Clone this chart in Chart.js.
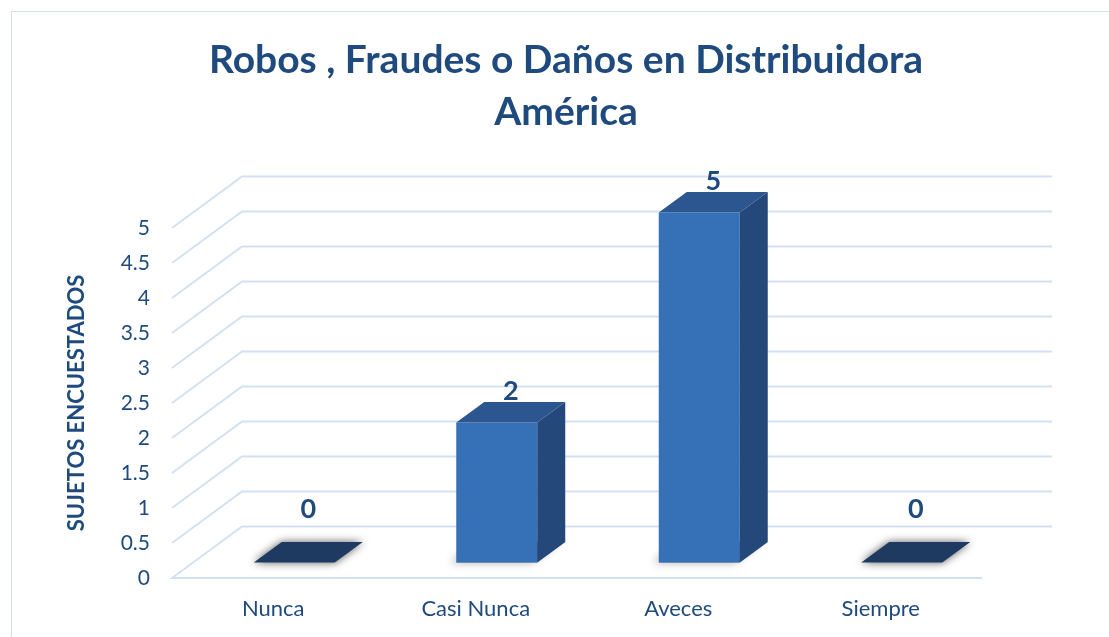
<!DOCTYPE html>
<html lang="es">
<head>
    <meta charset="UTF-8">
    <title>Robos, Fraudes o Daños en Distribuidora América</title>
    <script src="https://cdn.jsdelivr.net/npm/chart.js@4.4.0/dist/chart.umd.min.js"></script>
    <style>
        html, body { margin: 0; padding: 0; background: #fff; overflow: hidden; }
        #wrap { position: relative; width: 1109px; height: 637px; }
        #frame { position: absolute; left: 11px; top: 11px; width: 1300px; height: 800px;
                 border: 1px solid #d6dee9; box-sizing: border-box; }
        canvas { position: absolute; left: 0; top: 0; }
    </style>
</head>
<body>
<div id="wrap">
    <div id="frame"></div>
    <canvas id="myChart" width="1109" height="637"></canvas>
</div>
<script>
    // data
    var categories = ['Nunca', 'Casi Nunca', 'Aveces', 'Siempre']
    var values = [0, 2, 5, 0]
    var yTicks = [0, 0.5, 1, 1.5, 2, 2.5, 3, 3.5, 4, 4.5, 5]

    var titleLines = ['Robos , Fraudes o Daños en Distribuidora', 'América']
    var yTitle = 'SUJETOS ENCUESTADOS'

    var textColor = '#1f4a7e'
    var gridColor = '#d1e0f3'
    var frontColor = '#3670b6'
    var sideColor = '#24487a'
    var topColor = '#2b5690'
    var flatColor = '#1e3a60'
    var fontFamily = 'Lato, "Open Sans", sans-serif'

    // depth of the 3d box (back wall offset) and where bars sit inside it
    var DX = 70, DY = 51.5
    var barFront = 0.3, barBack = 0.7

    var walls3d = {
        id: 'walls3d',
        beforeDatasetsDraw: function(chart) {
            var ctx = chart.ctx, a = chart.chartArea, y = chart.scales.y
            ctx.save()
            ctx.strokeStyle = gridColor
            ctx.lineWidth = 1.8
            yTicks.forEach(function(v) {
                var py = y.getPixelForValue(v)
                ctx.beginPath()
                if (v === 0) {
                    ctx.moveTo(a.right, py)
                    ctx.lineTo(a.left, py)
                } else {
                    ctx.moveTo(a.left, py)
                }
                ctx.lineTo(a.left + DX, py - DY)
                ctx.lineTo(a.right + DX, py - DY)
                ctx.stroke()
            })
            ctx.restore()
        },
        afterDatasetsDraw: function(chart) {
            var ctx = chart.ctx
            var meta = chart.getDatasetMeta(0)
            var fx = barFront * DX, fy = barFront * DY
            var bx = (barBack - barFront) * DX, by = (barBack - barFront) * DY
            ctx.save()
            meta.data.forEach(function(el, i) {
                var w = el.width
                var left = el.x - w / 2 + fx, right = el.x + w / 2 + fx
                var top = el.y - fy, bottom = el.base - fy

                function topFace(t) {
                    ctx.beginPath()
                    ctx.moveTo(left, t)
                    ctx.lineTo(left + bx, t - by)
                    ctx.lineTo(right + bx, t - by)
                    ctx.lineTo(right, t)
                    ctx.closePath()
                }

                if (values[i] === 0) {
                    ctx.save()
                    ctx.shadowColor = 'rgba(0,0,0,0.65)'
                    ctx.shadowBlur = 9
                    ctx.fillStyle = flatColor
                    topFace(bottom)
                    ctx.fill()
                    ctx.restore()
                } else {
                    // soft floor shadow
                    ctx.save()
                    ctx.shadowColor = 'rgba(0,0,0,0.55)'
                    ctx.shadowBlur = 8
                    ctx.shadowOffsetX = -6
                    ctx.fillStyle = 'rgba(90,90,90,0.6)'
                    topFace(bottom)
                    ctx.fill()
                    ctx.restore()

                    ctx.fillStyle = frontColor
                    ctx.fillRect(left, top, w, bottom - top)

                    ctx.fillStyle = sideColor
                    ctx.beginPath()
                    ctx.moveTo(right, top)
                    ctx.lineTo(right + bx, top - by)
                    ctx.lineTo(right + bx, bottom - by)
                    ctx.lineTo(right, bottom)
                    ctx.closePath()
                    ctx.fill()

                    ctx.fillStyle = topColor
                    topFace(top)
                    ctx.fill()
                }

                // value label
                ctx.fillStyle = textColor
                ctx.font = 'bold 27px ' + fontFamily
                ctx.textAlign = 'center'
                ctx.textBaseline = 'middle'
                var lx = (left + right) / 2 + bx / 2
                var ly = top - by / 2 - (values[i] === 0 ? 43 : 21)
                ctx.fillText(String(values[i]), lx, ly)
            })
            ctx.restore()
        }
    }

    var ctx = document.getElementById('myChart').getContext('2d')
    var chart = new Chart(ctx, {
        type: 'bar',
        data: {
            labels: categories,
            datasets: [{
                label: yTitle,
                data: values,
                backgroundColor: 'rgba(0,0,0,0)',
                borderWidth: 0,
                barPercentage: 1,
                categoryPercentage: 0.4
            }]
        },
        plugins: [walls3d],
        options: {
            responsive: false,
            animation: false,
            events: [],
            layout: { padding: { left: 23, right: 0, top: 0, bottom: 0 } },
            plugins: {
                legend: { display: false },
                tooltip: { enabled: false },
                title: {
                    display: true,
                    text: titleLines,
                    color: textColor,
                    font: { family: fontFamily, size: 39, weight: 'bold', lineHeight: 52 / 39 },
                    padding: { top: 34, bottom: 90 }
                }
            },
            scales: {
                x: {
                    grid: { display: false, drawTicks: false },
                    border: { display: false },
                    ticks: { color: textColor, padding: 18, font: { family: fontFamily, size: 22 } },
                    afterFit: function(scale) { scale.height = 59 }
                },
                y: {
                    min: 0,
                    max: 5,
                    grid: { display: false, drawTicks: false },
                    border: { display: false },
                    afterBuildTicks: function(scale) {
                        scale.ticks = yTicks.map(function(v) { return { value: v } })
                    },
                    ticks: {
                        color: textColor,
                        padding: 22,
                        font: { family: fontFamily, size: 21 },
                        callback: function(v) { return String(v) }
                    },
                    title: {
                        display: true,
                        text: yTitle,
                        color: textColor,
                        font: { family: fontFamily, size: 22, weight: 'bold' },
                        padding: { top: 41, bottom: 0 }
                    },
                    afterFit: function(scale) { scale.width = 149 }
                },
                // empty spacer on the right so the plot ends where the reference does
                spacer: {
                    type: 'linear',
                    position: 'right',
                    grid: { display: false, drawTicks: false },
                    border: { display: false },
                    ticks: { display: false },
                    afterFit: function(scale) { scale.width = 127 }
                }
            }
        }
    })
</script>
</body>
</html>
